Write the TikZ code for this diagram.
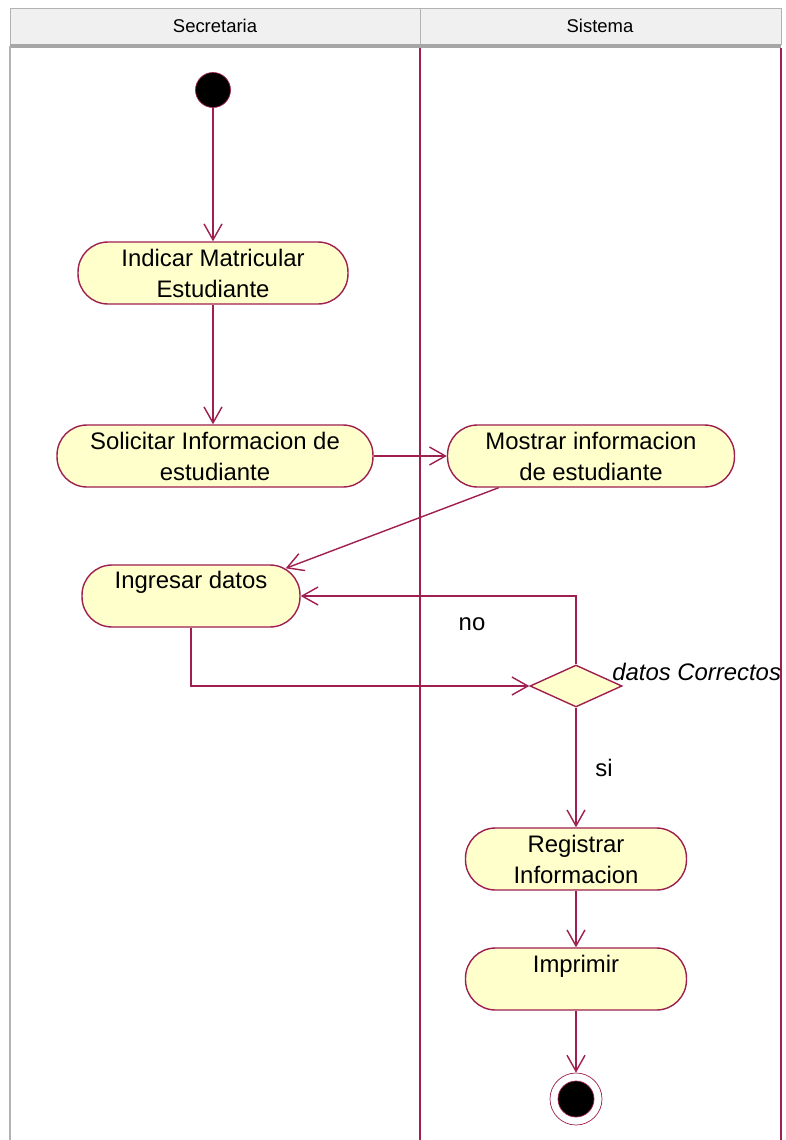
\documentclass[tikz,border=0pt]{standalone}
\usepackage{fontspec}
\setmainfont{Liberation Sans}
\usepackage{tikz}
\usetikzlibrary{arrows.meta,positioning,calc,shapes.geometric}
\usepackage{xcolor}
\definecolor{flowline}{HTML}{9E1F50}
\definecolor{actfill}{HTML}{FFFFCC}
\definecolor{headfill}{HTML}{F0F0F0}

\begin{document}
\begin{tikzpicture}[x=0.02cm,y=-0.02cm,
  act/.style={draw=flowline,fill=actfill,rounded corners=0.6cm,line width=0.8pt,
    minimum height=1.24cm,align=center,inner sep=2pt,
    font=\fontsize{13.6}{17.6}\selectfont},
  flow/.style={-{Straight Barb[length=3.2mm,width=3.6mm]},flowline,line width=0.8pt},
  lbl/.style={font=\fontsize{13.6}{16}\selectfont,inner sep=0pt}]
  \useasboundingbox (0,0) rectangle (785,1140);
  % lanes
  \fill[headfill] (10,8) rectangle (781,44);
  \draw[gray!60] (10,8) rectangle (420,44);
  \draw[gray!60] (420,8) rectangle (781,44);
  \draw[gray!70,line width=2.4pt] (10,46) -- (781,46);
  \node[font=\fontsize{10.5}{12}\selectfont] (hsec) at (215,26) {Secretaria};
  \node[font=\fontsize{10.5}{12}\selectfont] (hsis) at (600,26) {Sistema};
  \draw[gray!60,line width=1.2pt] (10,46) -- (10,1140);
  \draw[flowline,line width=0.8pt] (420,48) -- (420,1140);
  \draw[flowline,line width=0.8pt] (781,48) -- (781,1140);

  \node[circle,fill=black,draw=flowline,minimum size=0.7cm,inner sep=0pt] (start) at (213,90) {};
  \node[act,minimum width=5.4cm] (matric) at (213,273) {Indicar Matricular\\Estudiante};
  \node[act,minimum width=6.32cm] (solic) at (215,456) {Solicitar Informacion de\\estudiante};
  \node[act,minimum width=5.74cm] (mostrar) at (591,456) {Mostrar informacion\\de estudiante};
  \node[act,minimum width=4.36cm] (ingresar) at (191,596) {\raisebox{8pt}[\height][\depth]{Ingresar datos}};
  \node[diamond,draw=flowline,fill=actfill,line width=0.8pt,aspect=2.2,
        minimum width=1.84cm,minimum height=0.84cm,inner sep=0pt] (check) at (576,686) {};
  \node[lbl,font=\fontsize{13.6}{16}\selectfont\itshape,anchor=west] (cond) at (612,672) {datos Correctos};
  \node[lbl] (no) at (472,624) {no};
  \node[lbl] (si) at (604,768) {si};
  \node[act,minimum width=4.42cm] (registrar) at (576,859) {Registrar\\Informacion};
  \node[act,minimum width=4.42cm] (imprimir) at (576,979) {\raisebox{7.5pt}[\height][\depth]{Imprimir}};
  \node[circle,draw=flowline,fill=white,minimum size=1.04cm,inner sep=0pt] (fin) at (576,1099) {};
  \node[circle,fill=black,draw=flowline,minimum size=0.72cm,inner sep=0pt] (finDot) at (fin) {};

  \draw[flow] (start) -- (matric);
  \draw[flow] (matric.south) -- (matric.south |- solic.north);
  \draw[flow] (solic) -- (mostrar);
  \draw[flow] ($(mostrar.south west)!0.18!(mostrar.south east)$) -- ($(ingresar.north east)+(-15,4)$);
  \draw[flow] (ingresar.south) |- (check.west);
  \draw[flow] (check.north) |- (ingresar.east);
  \draw[flow] (check.south) -- (registrar.north);
  \draw[flow] (registrar) -- (imprimir);
  \draw[flow] (imprimir) -- (fin);
\end{tikzpicture}
\end{document}
